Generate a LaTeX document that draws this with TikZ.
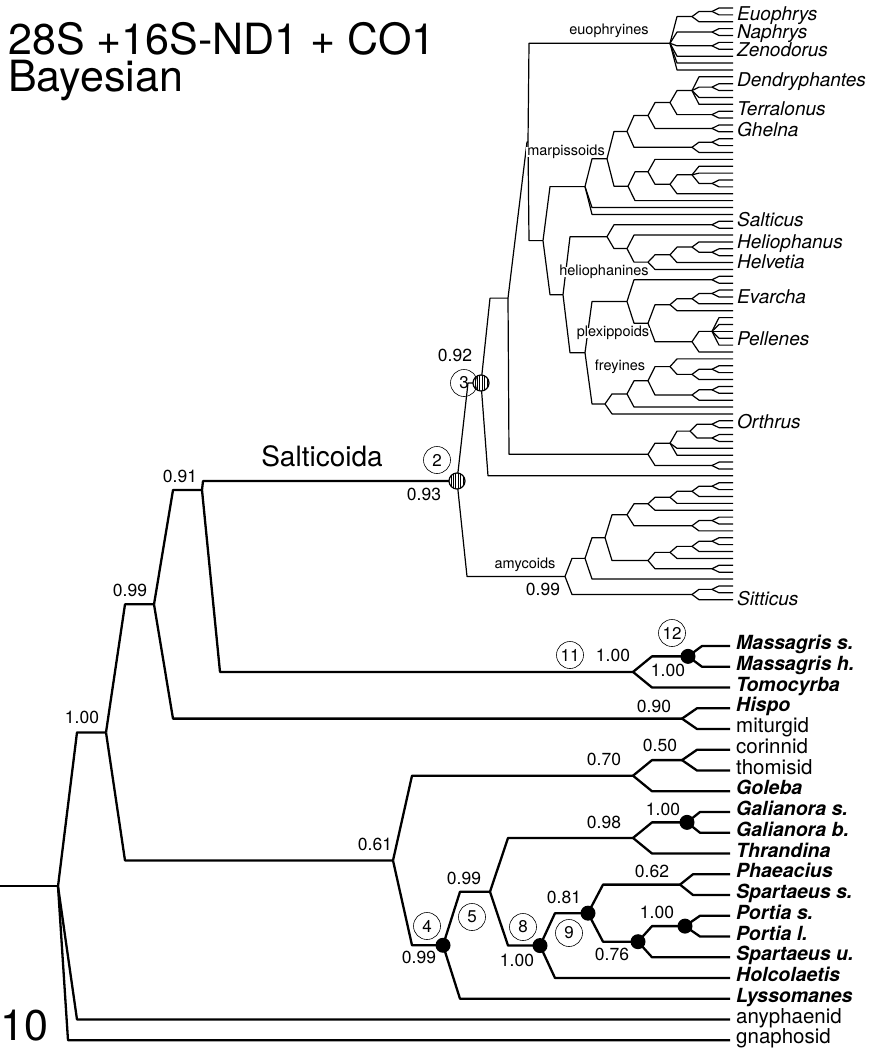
\documentclass[tikz,border=0pt]{standalone}
\usepackage{fontspec}
\setmainfont{TeX Gyre Heros}
\usetikzlibrary{calc}
\tikzset{
  thn/.style={line width=1.2pt, line join=round},
  thk/.style={line width=2.3pt, line join=round},
  lab/.style={inner sep=0pt, text height=.72em, text depth=0pt},
  sup/.style={lab, font=\fontsize{17.5}{17.5}\selectfont},
  clade/.style={lab, font=\fontsize{14.5}{14.5}\selectfont, fill=white, inner xsep=1pt, inner ysep=1pt},
  tipI/.style={lab, anchor=west, font=\fontsize{19}{19}\selectfont\itshape},
  tipB/.style={lab, anchor=west, font=\fontsize{19.5}{19.5}\selectfont\bfseries\itshape},
  tipR/.style={lab, anchor=west, font=\fontsize{20.5}{20.5}\selectfont},
  cnum/.style={circle, draw, line width=0.6pt, minimum size=27pt, inner sep=0pt, font=\fontsize{17}{17}\selectfont},
  big/.style={inner sep=0pt, anchor=base west, font=\fontsize{43}{43}\selectfont},
}
\newcommand\nd[4]{\coordinate (#1mid) at ($(#3)!0.5!(#4)$);\coordinate (#1) at (#2,0 |- #1mid);}
\newcommand\tb[3][7]{\draw[thn] (#2) -- ($(#2 |- #3)+(#1,0)$) -- (#3);}
\newcommand\kb[3][19]{\draw[thk] (#2) -- ($(#2 |- #3)+(#1,0)$) -- (#3);}
\newcommand\tbs[2]{\foreach \ch in {#2}{\tb{#1}{\ch}}}
\newcommand\pr[4]{\nd{#1}{#2}{#3}{#4}\tb{#1}{#3}\tb{#1}{#4}}
\newcommand\hatchdot[1]{%
  \begin{scope}
    \clip (#1) circle (8pt);
    \fill[white] (#1) circle (8pt);
    \foreach \d in {-6,-3.6,...,6.5} \draw[line width=0.9pt] ($(#1)+(\d,-9)$) -- ($(#1)+(\d,9)$);
  \end{scope}
  \draw[line width=1.2pt] (#1) circle (8pt);}
\begin{document}
\begin{tikzpicture}[x=1pt,y=-1pt]
\useasboundingbox (0,0) rectangle (872,1054);
% ---------- tips ----------
\foreach \i in {0,...,86}{\coordinate (u\i) at (733,{8+6.88*\i});}
\foreach \i in {0,...,19}{\coordinate (b\i) at (730,{646+20.75*\i});}
% ---------- euophryines ----------
\pr{eA2}{712}{u0}{u1}
\nd{eA}{692}{eA2}{u2}\tbs{eA}{eA2,u2}
\pr{eB}{712}{u3}{u4}
\pr{eC}{712}{u5}{u6}
\nd{E}{670}{eA}{u9}\tbs{E}{eA,eB,eC,u7,u8,u9}
% ---------- marpissoids ----------
\pr{mD2}{712}{u11}{u12}
\nd{mD}{692}{u10}{u14}\tbs{mD}{u10,mD2,u13,u14}
\pr{mT2}{712}{u15}{u16}
\nd{mT}{670}{mD}{mT2}\tbs{mT}{mD,mT2}
\pr{mG2}{712}{u17}{u18}
\nd{mG}{648}{mT}{mG2}\tbs{mG}{mT,mG2}
\pr{mK2}{712}{u19}{u20}
\nd{mK}{692}{mK2}{u21}\tbs{mK}{mK2,u21}
\nd{mH}{627}{mG}{mK}\tbs{mH}{mG,mK}
\pr{mL0}{712}{u25}{u26}
\nd{mL1}{692}{u23}{mL0}\tbs{mL1}{u23,u24,mL0}
\nd{mL2}{670}{mL1}{u27}\tbs{mL2}{mL1,u27}
\nd{mL3}{648}{u22}{mL2}\tbs{mL3}{u22,mL2}
\nd{mL4}{628}{mL3}{u28}\tbs{mL4}{mL3,u28}
\nd{mM1}{607}{mH}{mL4}\tbs{mM1}{mH,mL4}
\nd{mM2}{585}{mM1}{u30}\tbs{mM2}{mM1,u29,u30}
% ---------- heliophanines ----------
\pr{hS}{712}{u31}{u32}
\pr{h5b}{712}{u35}{u36}
\nd{h5}{692}{u34}{h5b}\tbs{h5}{u34,h5b}
\nd{h4}{670}{h5}{u37}\tbs{h4}{h5,u37}
\nd{h3}{648}{h4}{u38}\tbs{h3}{h4,u38}
\nd{h2}{627}{u33}{h3}\tbs{h2}{u33,h3}
\nd{Hel}{607}{hS}{h2}\tbs{Hel}{hS,h2}
% ---------- plexippoids ----------
\pr{pP1}{712}{u39}{u40}
\pr{pE2}{712}{u41}{u42}
\nd{pE}{692}{pE2}{u43}\tbs{pE}{pE2,u43}
\nd{pP3}{670}{pE}{u44}\tbs{pP3}{pE,u44}
\nd{pPel2}{712}{u45}{u49}\tbs{pPel2}{u45,u46,u47,u48,u49}
\nd{pPel}{692}{pPel2}{u50}\tbs{pPel}{pPel2,u50}
\nd{pP2}{648}{pP3}{pPel}\tbs{pP2}{pP3,pPel}
\nd{Plex}{627}{pP1}{pP2}\tbs{Plex}{pP1,pP2}
% ---------- freyines ----------
\pr{fB}{712}{u52}{u53}
\nd{F6}{692}{fB}{u54}\tbs{F6}{fB,u54}
\nd{F4}{670}{u51}{F6}\tbs{F4}{u51,F6}
\pr{fC}{712}{u55}{u56}
\nd{F5}{692}{fC}{u57}\tbs{F5}{fC,u57}
\nd{F3}{648}{F4}{F5}\tbs{F3}{F4,F5}
\nd{F2}{627}{F3}{u58}\tbs{F2}{F3,u58}
\nd{Frey}{605}{F2}{u59}\tbs{Frey}{F2,u59}
\nd{Y}{585}{Plex}{Frey}\tbs{Y}{Plex,Frey}
\nd{X}{563}{Hel}{Y}\tbs{X}{Hel,Y}
\nd{N1}{543}{mM2}{X}\tbs{N1}{mM2,X}
\nd{C}{528}{E}{N1}\tb[1]{C}{E}\tb[1]{C}{N1}
% ---------- Orthrus ----------
\pr{oA}{712}{u60}{u61}
\pr{oB}{712}{u62}{u63}
\nd{O3}{690}{oA}{oB}\tbs{O3}{oA,oB}
\nd{O2}{670}{O3}{u65}\tbs{O2}{O3,u64,u65}
\pr{oC}{712}{u66}{u67}
\nd{O}{648}{O2}{oC}\tbs{O}{O2,oC}
\nd{B}{508}{C}{O}\tb[19]{B}{C}\tb[1]{B}{O}
% ---------- amycoids ----------
\pr{a1}{712}{u69}{u70}
\nd{a2}{692}{a1}{u71}\tbs{a2}{a1,u71}
\nd{a3}{670}{a2}{u72}\tbs{a3}{a2,u72}
\nd{a4}{648}{a3}{u73}\tbs{a4}{a3,u73}
\pr{a5}{712}{u74}{u75}
\nd{a6}{692}{a5}{u76}\tbs{a6}{a5,u76}
\nd{A4}{627}{a4}{a6}\tbs{A4}{a4,a6}
\pr{a7}{712}{u77}{u78}
\nd{A9}{692}{a7}{u79}\tbs{A9}{a7,u79}
\nd{A8}{670}{A9}{u80}\tbs{A8}{A9,u80}
\pr{a10}{712}{u81}{u82}
\nd{A5}{648}{A8}{a10}\tbs{A5}{A8,a10}
\nd{A3}{605}{A4}{A5}\tbs{A3}{A4,A5}
\nd{A2}{585}{A3}{u83}\tbs{A2}{A3,u83}
\pr{s1}{712}{u84}{u85}
\nd{Sit}{692}{s1}{u86}\tbs{Sit}{s1,u86}
\nd{Amy}{565}{A2}{Sit}\tbs{Amy}{A2,Sit}
% ---------- nodes 2 and 3 ----------
\coordinate (N3) at (481,383);
\coordinate (N2) at (457,481);
\tb[9]{N3}{B}\tb[7]{N3}{u68}
\tb[11]{N2}{N3}\tb[10]{N2}{Amy}
% ---------- thick part ----------
\nd{N12}{688}{b0}{b1}\kb[14]{N12}{b0}\kb[14]{N12}{b1}
\nd{N11}{633}{N12}{b2}\kb{N11}{N12}\kb{N11}{b2}
\nd{Nhis}{682}{b3}{b4}\kb[15]{Nhis}{b3}\kb[15]{Nhis}{b4}
\nd{N50}{682}{b5}{b6}\kb[15]{N50}{b5}\kb[15]{N50}{b6}
\nd{N70}{633}{N50}{b7}\kb{N70}{N50}\kb{N70}{b7}
\nd{Ngal}{687}{b8}{b9}\kb[13]{Ngal}{b8}\kb[13]{Ngal}{b9}
\nd{N98}{633}{Ngal}{b10}\kb{N98}{Ngal}\kb{N98}{b10}
\nd{N62}{680}{b11}{b12}\kb[13]{N62}{b11}\kb[13]{N62}{b12}
\nd{Npor}{685}{b13}{b14}\kb[15]{Npor}{b13}\kb[15]{Npor}{b14}
\nd{N76}{638}{Npor}{b15}\kb[14]{N76}{Npor}\kb[14]{N76}{b15}
\nd{N9}{588}{N62}{N76}\kb[15]{N9}{N62}\kb[15]{N9}{N76}
\nd{N8}{540}{N9}{b16}\kb[15]{N8}{N9}\kb[15]{N8}{b16}
\nd{N5}{490}{N98}{N8}\kb[18]{N5}{N98}\kb[18]{N5}{N8}
\nd{N4}{443}{N5}{b17}\kb[17]{N4}{N5}\kb[17]{N4}{b17}
\nd{N61}{393}{N70}{N4}\kb{N61}{N70}\kb{N61}{N4}
\coordinate (N091) at (202,490);
\kb[1]{N091}{N2}\kb[18]{N091}{N11}
\nd{N99}{154}{N091}{Nhis}\kb{N99}{N091}\kb{N99}{Nhis}
\nd{R1}{106}{N99}{N61}\kb{R1}{N99}\kb{R1}{N61}
\nd{root}{58}{R1}{b19}\kb{root}{R1}\kb{root}{b18}\kb[10]{root}{b19}
\coordinate (rootL) at (0,0 |- root);
\draw[thk] (rootL) -- (root);
% ---------- marker dots ----------
\foreach \n in {N12,Ngal,N4,N8,N9,N76,Npor}{\fill (\n) circle (7.5pt);}
\hatchdot{N2}
\hatchdot{N3}
% ---------- circled numbers ----------
\node[cnum] (c2) at (437,460) {2};
\node[cnum] (c3) at (464,383) {3};
\node[cnum] (c11) at (570,655) {11};
\node[cnum] (c12) at (672,633) {12};
\node[cnum] (c4) at (427,926) {4};
\node[cnum] (c5) at (472,917) {5};
\node[cnum] (c8) at (523,927) {8};
\node[cnum] (c9) at (569,933) {9};
% ---------- support values ----------
\node[sup] (s1) at (180,479) {0.91};
\node[sup] (s2) at (130,593) {0.99};
\node[sup] (s3) at (82,720) {1.00};
\node[sup] (s4) at (424,497) {0.93};
\node[sup] (s5) at (455,358) {0.92};
\node[sup] (s6) at (543,592) {0.99};
\node[sup] (s7) at (613,658) {1.00};
\node[sup] (s8) at (668,673) {1.00};
\node[sup] (s9) at (654,709) {0.90};
\node[sup] (s10) at (660,748) {0.50};
\node[sup] (s11) at (604,762) {0.70};
\node[sup] (s12) at (663,812) {1.00};
\node[sup] (s13) at (604,825) {0.98};
\node[sup] (s14) at (375,847) {0.61};
\node[sup] (s15) at (464,881) {0.99};
\node[sup] (s16) at (419,960) {0.99};
\node[sup] (s17) at (517,963) {1.00};
\node[sup] (s18) at (564,900) {0.81};
\node[sup] (s19) at (652,874) {0.62};
\node[sup] (s20) at (657,915) {1.00};
\node[sup] (s21) at (612,957) {0.76};
% ---------- clade labels ----------
\node[clade] (k1) at (609,31) {euophryines};
\node[clade] (k2) at (566,152) {marpissoids};
\node[clade] (k3) at (604,272) {heliophanines};
\node[clade] (k4) at (613,333) {plexippoids};
\node[clade] (k5) at (620,367) {freyines};
\node[clade] (k6) at (525,565) {amycoids};
\node[lab, font=\fontsize{28}{28}\selectfont] (salt) at (322,463) {Salticoida};
% ---------- upper tip labels ----------
\node[tipI] (l1) at (737,17) {Euophrys};
\node[tipI] (l2) at (737,35) {Naphrys};
\node[tipI] (l3) at (737,53) {Zenodorus};
\node[tipI] (l4) at (737,83) {Dendryphantes};
\node[tipI] (l5) at (737,112) {Terralonus};
\node[tipI] (l6) at (737,133) {Ghelna};
\node[tipI] (l7) at (737,223) {Salticus};
\node[tipI] (l8) at (737,245) {Heliophanus};
\node[tipI] (l9) at (737,265) {Helvetia};
\node[tipI] (l10) at (737,300) {Evarcha};
\node[tipI] (l11) at (737,342) {Pellenes};
\node[tipI] (l12) at (737,425) {Orthrus};
\node[tipI] (l13) at (737,602) {Sitticus};
% ---------- lower tip labels ----------
\node[tipB] (m0) at ([xshift=6pt]b0) {Massagris s.};
\node[tipB] (m1) at ([xshift=6pt]b1) {Massagris h.};
\node[tipB] (m2) at ([xshift=6pt]b2) {Tomocyrba};
\node[tipB] (m3) at ([xshift=6pt]b3) {Hispo};
\node[tipR] (m4) at ([xshift=6pt]b4) {miturgid};
\node[tipR] (m5) at ([xshift=6pt]b5) {corinnid};
\node[tipR] (m6) at ([xshift=6pt]b6) {thomisid};
\node[tipB] (m7) at ([xshift=6pt]b7) {Goleba};
\node[tipB] (m8) at ([xshift=6pt]b8) {Galianora s.};
\node[tipB] (m9) at ([xshift=6pt]b9) {Galianora b.};
\node[tipB] (m10) at ([xshift=6pt]b10) {Thrandina};
\node[tipB] (m11) at ([xshift=6pt]b11) {Phaeacius};
\node[tipB] (m12) at ([xshift=6pt]b12) {Spartaeus s.};
\node[tipB] (m13) at ([xshift=6pt]b13) {Portia s.};
\node[tipB] (m14) at ([xshift=6pt]b14) {Portia l.};
\node[tipB] (m15) at ([xshift=6pt]b15) {Spartaeus u.};
\node[tipB] (m16) at ([xshift=6pt]b16) {Holcolaetis};
\node[tipB] (m17) at ([xshift=6pt]b17) {Lyssomanes};
\node[tipR] (m18) at ([xshift=6pt]b18) {anyphaenid};
\node[tipR] (m19) at ([xshift=6pt]b19) {gnaphosid};
% ---------- title and scale ----------
\node[big] (t1) at (8,55) {28S +16S-ND1 + CO1};
\node[big] (t2) at (8,92) {Bayesian};
\node[big] (sc) at (0,1040) {10};
\end{tikzpicture}
\end{document}
